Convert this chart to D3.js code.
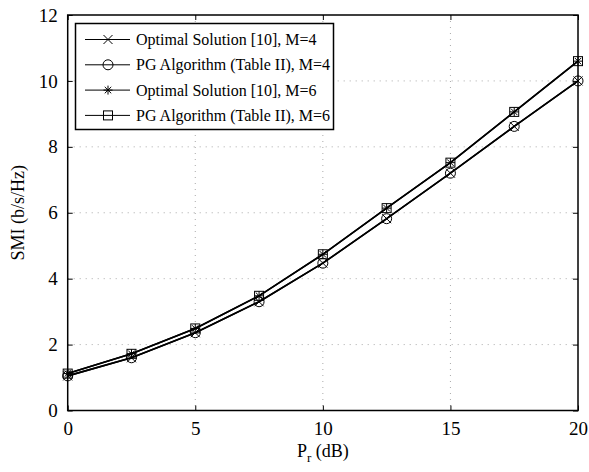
<!DOCTYPE html>
<html>
<head>
<meta charset="utf-8">
<script src="https://d3js.org/d3.v7.min.js"></script>
<style>
  body { margin: 0; background: #fff; }
  svg text { font-family: "Liberation Serif", "Times New Roman", serif; fill: #000; }
</style>
</head>
<body>
<svg id="chart" width="589" height="472"></svg>
<script>
// Transmit power P_r (dB)
const powerDb = [0, 2.5, 5, 7.5, 10, 12.5, 15, 17.5, 20];
// Sum mutual information (b/s/Hz)
const optimalM4 = [1.05, 1.60, 2.36, 3.30, 4.47, 5.82, 7.20, 8.62, 10.00];
const pgM4      = [1.05, 1.60, 2.36, 3.30, 4.47, 5.82, 7.20, 8.62, 10.00];
const optimalM6 = [1.12, 1.72, 2.49, 3.48, 4.74, 6.14, 7.52, 9.06, 10.60];
const pgM6      = [1.12, 1.72, 2.49, 3.48, 4.74, 6.14, 7.52, 9.06, 10.60];
const xTicks = [0, 5, 10, 15, 20];
const yTicks = [0, 2, 4, 6, 8, 10, 12];
const seriesNames = [
  "Optimal Solution [10], M=4",
  "PG Algorithm (Table II), M=4",
  "Optimal Solution [10], M=6",
  "PG Algorithm (Table II), M=6"
];
const seriesMarkers = ["cross", "circle", "star", "square"];

const series = [optimalM4, pgM4, optimalM6, pgM6].map((vals, i) => ({
  name: seriesNames[i], marker: seriesMarkers[i],
  points: powerDb.map((p, j) => [p, vals[j]])
}));

const svg = d3.select("#chart");
const L = 67.7, R = 578, T = 15, B = 410.5;
const x = d3.scaleLinear().domain([0, 20]).range([L, R]);
const y = d3.scaleLinear().domain([0, 12]).range([B, T]);

// dotted grid
const grid = svg.append("g").attr("stroke", "#aaa").attr("stroke-width", 1)
  .attr("stroke-dasharray", "1,5");
grid.selectAll(".gx").data(xTicks.slice(1, -1)).enter().append("line")
  .attr("x1", d => x(d)).attr("x2", d => x(d)).attr("y1", T).attr("y2", B);
grid.selectAll(".gy").data(yTicks.slice(1, -1)).enter().append("line")
  .attr("x1", L).attr("x2", R).attr("y1", d => y(d)).attr("y2", d => y(d));

// axes with inward ticks
const tickLen = 5;
const axB = svg.append("g").attr("transform", `translate(0,${B})`)
  .call(d3.axisBottom(x).tickValues(xTicks).tickSizeInner(-tickLen).tickSizeOuter(0).tickPadding(11));
const axT = svg.append("g").attr("transform", `translate(0,${T})`)
  .call(d3.axisTop(x).tickValues(xTicks).tickSizeInner(-tickLen).tickSizeOuter(0).tickFormat(""));
const axL = svg.append("g").attr("transform", `translate(${L},0)`)
  .call(d3.axisLeft(y).tickValues(yTicks).tickSizeInner(-tickLen).tickSizeOuter(0).tickPadding(10));
const axR = svg.append("g").attr("transform", `translate(${R},0)`)
  .call(d3.axisRight(y).tickValues(yTicks).tickSizeInner(-tickLen).tickSizeOuter(0).tickFormat(""));
[axB, axT, axL, axR].forEach(a => {
  a.select(".domain").remove();
  a.selectAll(".tick line").attr("stroke", "#000").attr("stroke-width", 1);
  a.selectAll(".tick text").style("font-size", "19px")
    .style("font-family", "'Liberation Serif', serif");
});
axB.selectAll(".tick text").attr("dy", "0.71em");

svg.append("rect").attr("x", L).attr("y", T).attr("width", R - L).attr("height", B - T)
  .attr("fill", "none").attr("stroke", "#000").attr("stroke-width", 1.5);

// marker drawing
function drawMarker(g, type, cx, cy) {
  const s = 4.5;
  if (type === "cross") {
    g.append("path").attr("d", `M${cx - s},${cy - s}L${cx + s},${cy + s}M${cx - s},${cy + s}L${cx + s},${cy - s}`)
      .attr("stroke", "#000").attr("stroke-width", 1).attr("fill", "none");
  } else if (type === "circle") {
    g.append("circle").attr("cx", cx).attr("cy", cy).attr("r", s + 0.5)
      .attr("stroke", "#000").attr("stroke-width", 1).attr("fill", "none");
  } else if (type === "star") {
    const a = s * 0.72;
    g.append("path").attr("d",
      `M${cx - s},${cy}L${cx + s},${cy}M${cx},${cy - s}L${cx},${cy + s}M${cx - a},${cy - a}L${cx + a},${cy + a}M${cx - a},${cy + a}L${cx + a},${cy - a}`)
      .attr("stroke", "#000").attr("stroke-width", 1).attr("fill", "none");
  } else if (type === "square") {
    g.append("rect").attr("x", cx - s).attr("y", cy - s).attr("width", 2 * s).attr("height", 2 * s)
      .attr("stroke", "#000").attr("stroke-width", 1).attr("fill", "none");
  }
}

const line = d3.line().x(d => x(d[0])).y(d => y(d[1]));
series.forEach(s => {
  svg.append("path").datum(s.points).attr("d", line)
    .attr("fill", "none").attr("stroke", "#000").attr("stroke-width", 1.6);
});
series.forEach(s => {
  const g = svg.append("g");
  s.points.forEach(p => drawMarker(g, s.marker, x(p[0]), y(p[1])));
});

// legend
const lg = svg.append("g");
lg.append("rect").attr("x", 75.5).attr("y", 23.5).attr("width", 258).attr("height", 106)
  .attr("fill", "#fff").attr("stroke", "#000").attr("stroke-width", 1.5);
series.forEach((s, i) => {
  const yy = 39.5 + i * 25.3;
  lg.append("line").attr("x1", 85).attr("x2", 130).attr("y1", yy).attr("y2", yy)
    .attr("stroke", "#000").attr("stroke-width", 1);
  drawMarker(lg, s.marker, 108, yy);
  lg.append("text").attr("x", 136).attr("y", yy).attr("dy", "0.35em")
    .style("font-size", "16px").text(s.name);
});

// axis titles
svg.append("text").attr("transform", `translate(24,${(T + B) / 2}) rotate(-90)`)
  .attr("text-anchor", "middle").style("font-size", "18px").text("SMI (b/s/Hz)");
const xt = svg.append("text").attr("x", (L + R) / 2).attr("y", 457)
  .attr("text-anchor", "middle").style("font-size", "18px");
xt.append("tspan").text("P");
xt.append("tspan").attr("dy", 5).style("font-size", "13px").text("r");
xt.append("tspan").attr("dy", -5).text(" (dB)");
</script>
</body>
</html>
